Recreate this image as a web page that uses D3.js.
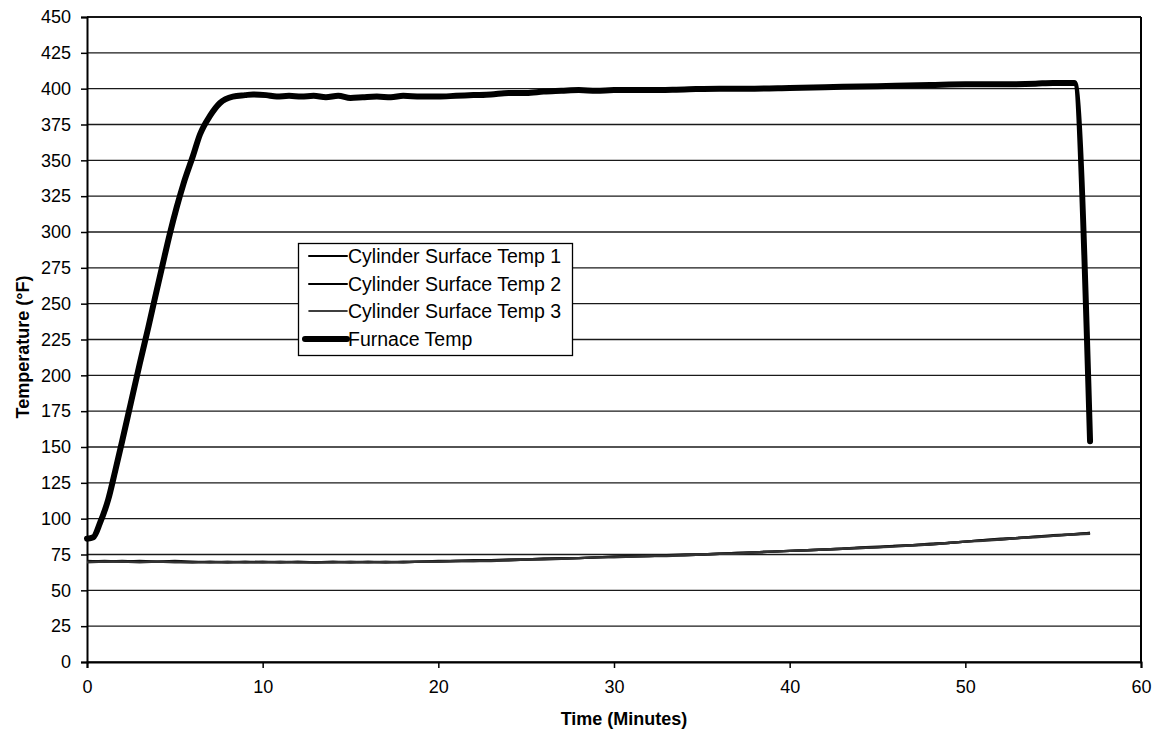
<!DOCTYPE html>
<html><head><meta charset="utf-8">
<script src="https://cdn.jsdelivr.net/npm/d3@7/dist/d3.min.js"></script>
<style>body{margin:0;background:#fff;} text{font-family:"Liberation Sans",Arial,sans-serif;}</style>
</head><body><svg id="c" width="1157" height="734"></svg>
<script>
const yTicks = [0,25,50,75,100,125,150,175,200,225,250,275,300,325,350,375,400,425,450];
const xTicks = [0,10,20,30,40,50,60];
const seriesNames = ["Cylinder Surface Temp 1","Cylinder Surface Temp 2","Cylinder Surface Temp 3","Furnace Temp"];
const xTitle = "Time (Minutes)";
const yTitle = "Temperature (°F)";

const furnaceTime = [0,0.36,0.74,1.2,1.6,2,2.5,3,3.5,3.87,4.3,4.72,5.1,5.5,6.03,6.43,7,7.57,8.3,9,9.45,10.2,10.8,11.5,12.2,12.9,13.6,14.3,15,15.7,16.5,17.3,18,19,20,21,22,23,24,25,26,27,28,29,30,32,34,36,38,40,42,44,46,48,50,52,54,55,56,56.2,57.1];
const furnaceTemp = [86,87,97,113,133,154,181,208,234,254,277,299,317,334,353,368,381,390,394.5,395.5,396,395.5,394.5,395,394.5,395,394,395,393.5,394,394.5,394,395,394.5,394.5,395,395.5,396,397,397,398,398.5,399,398.5,399,399,399.5,400,400,400.5,401,401.5,402,402.5,403,403,403.5,404,404,404,154];

const cylTime = [0,1,2,3,4,5,6,7,8,9,10,11,12,13,14,15,16,17,18,19,20,21,22,23,24,25,26,27,28,29,30,31,32,33,34,35,36,37,38,39,40,41,42,43,44,45,46,47,48,49,50,51,52,53,54,55,56,57.1];
const cyl1 = [70,70.5,70,70.5,70,70,69.5,70,69.5,69.5,70,69.5,69.5,69.5,70,69.5,69.5,69.5,70,70,70,70.5,70.5,71,71,71.5,72,72,72.5,73,73.5,73.5,74,74.5,74.5,75,75.5,76,76.5,77,77.5,78,78.5,79,79.5,80,81,81.5,82,83,84,85,86,86.5,87.5,88.5,89,90];
const cyl2 = [70.5,70,70.5,70,70,70.5,70,69.5,69.5,70,69.5,69.5,70,69.5,69.5,69.5,70,69.5,69.5,70,70.5,70.5,71,71,71.5,71.5,72,72.5,72.5,73,73.5,74,74,74.5,75,75,75.5,76,76.5,77,77.5,78,78.5,79,80,80.5,81,81.5,82.5,83,84,85,85.5,86.5,87.5,88,89,90];
const cyl3 = [69.5,70,70,69.5,70,69.5,69.5,69.5,70,69.5,69.5,70,69.5,69.5,69.5,70,69.5,70,69.5,70,70,70.5,70.5,70.5,71,71.5,71.5,72,72.5,73,73,73.5,74,74,74.5,75,75.5,75.5,76.5,77,77.5,78,78.5,79,79.5,80,80.5,81.5,82,83,84,84.5,85.5,86.5,87,88,89,89.5];

const svg = d3.select("#c");
const L = 87, R = 1141, T = 17, B = 662;
const x = d3.scaleLinear().domain([0,60]).range([L,R]);
const y = d3.scaleLinear().domain([0,450]).range([B,T]);

// gridlines
svg.append("g").selectAll("line").data(yTicks).join("line")
  .attr("x1",L).attr("x2",R).attr("y1",d=>y(d)).attr("y2",d=>y(d))
  .attr("stroke","#1a1a1a").attr("stroke-width",1.3);

// axes
const yAxis = d3.axisLeft(y).tickValues(yTicks).tickSize(6).tickPadding(10);
const gy = svg.append("g").attr("transform",`translate(${L},0)`).call(yAxis);
const xAxis = d3.axisBottom(x).tickValues(xTicks).tickSize(6).tickPadding(12);
const gx = svg.append("g").attr("transform",`translate(0,${B})`).call(xAxis);
[gy,gx].forEach(g=>{
  g.select(".domain").attr("stroke","#000").attr("stroke-width",2);
  g.selectAll(".tick line").attr("stroke","#000").attr("stroke-width",1.5);
  g.selectAll("text").attr("font-size",18).attr("fill","#000").style("font-family","'Liberation Sans',Arial,sans-serif");
});
// right border
svg.append("line").attr("x1",R).attr("x2",R).attr("y1",T).attr("y2",B).attr("stroke","#000").attr("stroke-width",2);
svg.append("line").attr("x1",L).attr("x2",R).attr("y1",T).attr("y2",T).attr("stroke","#000").attr("stroke-width",1.5);

// lines
const mk = (tt)=> d3.line().x((d,i)=>x(tt[i])).y(d=>y(d));
[cyl1,cyl2,cyl3].forEach((s,k)=>{
  svg.append("path").datum(s).attr("d",mk(cylTime)).attr("fill","none")
    .attr("stroke", k===2 ? "#333" : "#111").attr("stroke-width",2.4).attr("stroke-linejoin","round");
});
svg.append("path").datum(furnaceTemp).attr("d",mk(furnaceTime).curve(d3.curveMonotoneX)).attr("fill","none")
  .attr("stroke","#000").attr("stroke-width",6).attr("stroke-linejoin","round").attr("stroke-linecap","round");

// axis titles
svg.append("text").attr("x",(L+R)/2+10).attr("y",725).attr("text-anchor","middle")
  .attr("font-size",18).attr("font-weight","bold").text(xTitle);
svg.append("text").attr("transform","translate(29,347) rotate(-90)").attr("text-anchor","middle")
  .attr("font-size",18).attr("font-weight","bold").text(yTitle);

// legend
const lg = svg.append("g");
lg.append("rect").attr("x",298.5).attr("y",243.5).attr("width",274).attr("height",112)
  .attr("fill","#fff").attr("stroke","#000").attr("stroke-width",1.3);
const ly = [256,284,311,339];
const lw = [2,2,1.6,6];
seriesNames.forEach((n,i)=>{
  lg.append("line").attr("x1",i===3?305:309).attr("x2",347).attr("y1",ly[i]).attr("y2",ly[i])
    .attr("stroke","#000").attr("stroke-width",lw[i]).attr("stroke-linecap","round");
  lg.append("text").attr("x",348).attr("y",ly[i]+7).attr("font-size",19.5).text(n);
});
</script></body></html>
